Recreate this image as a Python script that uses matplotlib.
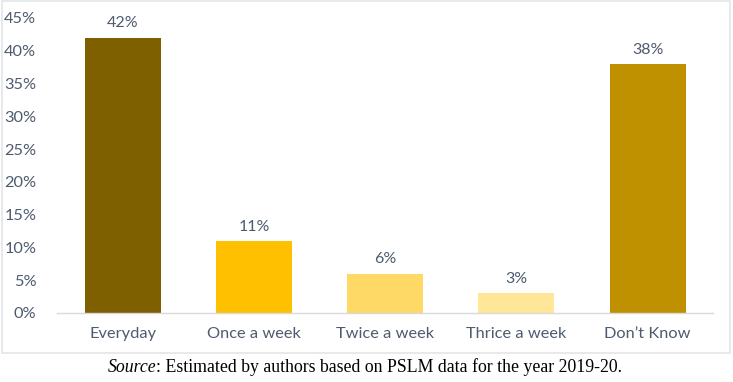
import matplotlib.pyplot as plt
from matplotlib.patches import Rectangle

categories = ["Everyday", "Once a week", "Twice a week", "Thrice a week", "Don\u2019t Know"]
shares = [42, 11, 6, 3, 38]
bar_colors = ["#7F6000", "#FFC000", "#FFD966", "#FFE699", "#BF9000"]
yticks = [0, 5, 10, 15, 20, 25, 30, 35, 40, 45]

text_col = "#4E5B6E"
plt.rcParams['font.family'] = ['Lato', 'DejaVu Sans']

fig = plt.figure(figsize=(7.33, 3.82), dpi=100)
ax = fig.add_axes([0.078, 0.181, 0.895, 0.772])

x = list(range(len(categories)))
bars = ax.bar(x, shares, width=0.58, color=bar_colors)

# labels over bars
for xi, v in zip(x, shares):
    ax.text(xi, v + 1.1, f"{v}%", ha="center", va="bottom", fontsize=11.5, color=text_col)

ax.set_xlim(-0.5, len(categories) - 0.5)
ax.set_ylim(0, 45)
ax.set_yticks(yticks)
ax.set_yticklabels([f"{t}%" for t in yticks])
ax.set_xticks(x)
ax.set_xticklabels(categories)
ax.tick_params(axis="both", length=0, labelsize=11.8, labelcolor=text_col)
ax.tick_params(axis="x", pad=10)
ax.tick_params(axis="y", pad=15)

for s in ["top", "right", "left"]:
    ax.spines[s].set_visible(False)
ax.spines["bottom"].set_color("#D9D9D9")
ax.spines["bottom"].set_linewidth(1)

# chart frame
fig.patches.append(Rectangle((0.003, 0.076), 0.993, 0.921, transform=fig.transFigure,
                             fill=False, edgecolor="#E3E6EA", linewidth=1.2))

t1 = fig.text(0.147, 0.039, "Source", ha="left", va="center", fontsize=12.8,
              family="Liberation Serif", style="italic", color="black")
fig.canvas.draw()
bb = t1.get_window_extent()
x2 = bb.x1 / fig.bbox.width
fig.text(x2, 0.039, ": Estimated by authors based on PSLM data for the year 2019-20.",
         ha="left", va="center", fontsize=12.8, family="Liberation Serif", color="black")

fig.savefig("out.png", dpi=100)
